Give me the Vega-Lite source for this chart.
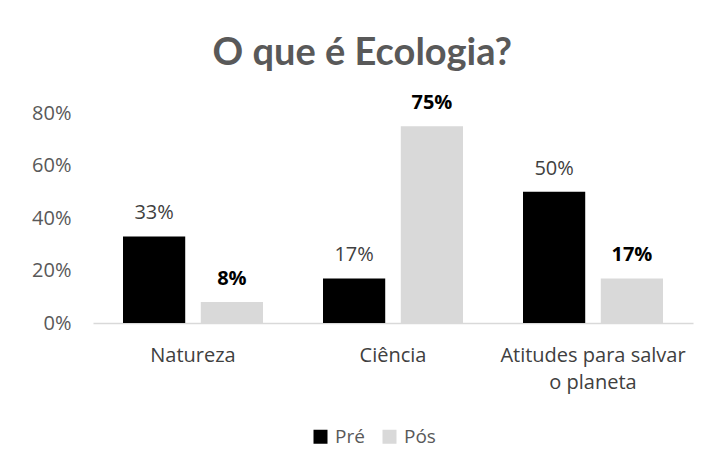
{
  "$schema": "https://vega.github.io/schema/vega-lite/v6.json",
  "autosize": "none",
  "width": 600,
  "height": 210,
  "padding": {"left": 93, "top": 113, "right": 15, "bottom": 149},
  "background": "white",
  "config": {"view": {"stroke": null}, "font": "Open Sans"},
  "title": {
    "text": "O que é Ecologia?",
    "fontSize": 38,
    "fontWeight": "bold",
    "color": "#595959",
    "font": "Lato",
    "anchor": "middle",
    "frame": "bounds",
    "offset": 20
  },
  "data": {
    "values": [
      {"categoria": "Natureza", "momento": "Pré", "valor": 0.33},
      {"categoria": "Natureza", "momento": "Pós", "valor": 0.08},
      {"categoria": "Ciência", "momento": "Pré", "valor": 0.17},
      {"categoria": "Ciência", "momento": "Pós", "valor": 0.75},
      {"categoria": "Atitudes para salvar o planeta", "momento": "Pré", "valor": 0.50},
      {"categoria": "Atitudes para salvar o planeta", "momento": "Pós", "valor": 0.17}
    ]
  },
  "encoding": {
    "x": {
      "field": "categoria",
      "type": "nominal",
      "sort": null,
      "scale": {"paddingInner": 0.3, "paddingOuter": 0.15},
      "axis": {
        "title": null,
        "labelAngle": 0,
        "labelFontSize": 20,
        "labelColor": "#404040",
        "labelFont": "Open Sans",
        "labelPadding": 22,
        "labelLineHeight": 27,
        "labelBaseline": "top",
        "labelLimit": 0,
        "ticks": false,
        "domainColor": "#d9d9d9",
        "domainWidth": 1.5,
        "labelExpr": "datum.label == 'Atitudes para salvar o planeta' ? ['Atitudes para salvar', 'o planeta'] : datum.label"
      }
    },
    "xOffset": {
      "field": "momento",
      "type": "nominal",
      "sort": ["Pré", "Pós"],
      "scale": {"paddingInner": 0.2}
    },
    "y": {
      "field": "valor",
      "type": "quantitative",
      "scale": {"domain": [0, 0.8], "nice": false},
      "axis": {
        "title": null,
        "values": [0, 0.2, 0.4, 0.6, 0.8],
        "format": ".0%",
        "labelFontSize": 20,
        "labelColor": "#595959",
        "labelFont": "Open Sans",
        "labelPadding": 22,
        "ticks": false,
        "domain": false,
        "grid": false
      }
    }
  },
  "layer": [
    {
      "mark": {"type": "bar"},
      "encoding": {
        "color": {
          "field": "momento",
          "type": "nominal",
          "sort": ["Pré", "Pós"],
          "scale": {"domain": ["Pré", "Pós"], "range": ["#000000", "#d9d9d9"]},
          "legend": {
            "title": null,
            "orient": "none",
            "direction": "horizontal",
            "legendX": 218,
            "legendY": 314,
            "symbolType": "square",
            "symbolSize": 196,
            "symbolStrokeWidth": 0,
            "labelFontSize": 19,
            "labelColor": "#595959",
            "labelFont": "Open Sans",
            "columnPadding": 15,
            "labelOffset": 5
          }
        }
      }
    },
    {
      "transform": [{"filter": "datum.momento == 'Pré'"}],
      "mark": {"type": "text", "dy": -17, "baseline": "alphabetic", "fontSize": 20, "color": "#404040", "font": "Open Sans"},
      "encoding": {"text": {"field": "valor", "type": "quantitative", "format": ".0%"}}
    },
    {
      "transform": [{"filter": "datum.momento == 'Pós'"}],
      "mark": {"type": "text", "dy": -17, "baseline": "alphabetic", "fontSize": 20, "fontWeight": "bold", "color": "#000000", "font": "Open Sans"},
      "encoding": {"text": {"field": "valor", "type": "quantitative", "format": ".0%"}}
    }
  ]
}
